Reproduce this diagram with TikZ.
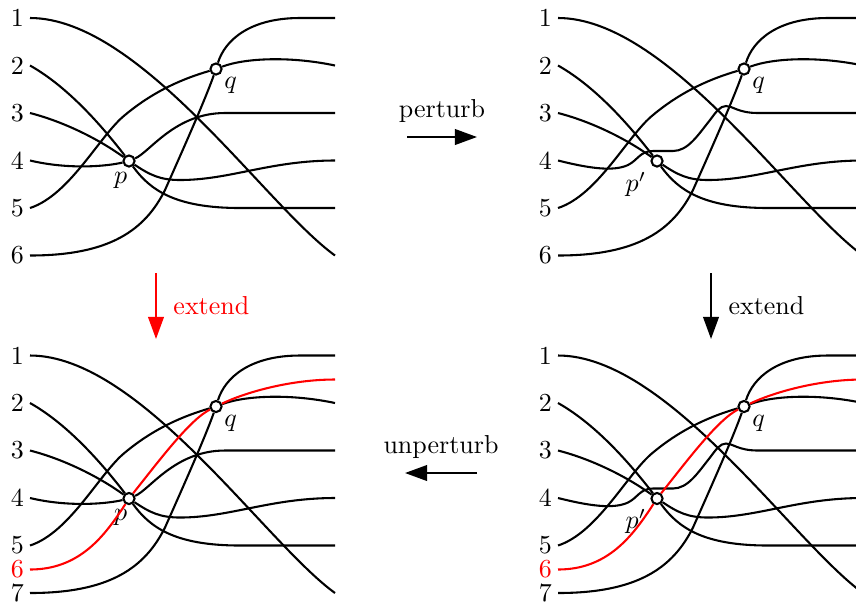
\documentclass[tikz,border=0pt]{standalone}
\usetikzlibrary{arrows.meta, positioning}
\tikzset{
    pseudolines/.style={x=0.385pt, y=0.385pt, thick},
    wire/.style={thick},
    newwire/.style={thick, red},
    crossing/.style={draw, thick, fill=white, circle, minimum size=4.3pt, inner sep=0pt},
    rowlabel/.style={anchor=east, inner sep=2pt},
    ptlabel/.style={inner sep=1pt},
    move/.style={-{Triangle[length=8.5pt, width=6pt]}, thick},
}
% one panel: #1 = label of the lowest black wire, #2 = name of the triple point,
% #3 = sideways nudge of that name
\newcommand{\arrangement}[3]{%
  \foreach \i/\y in {1/18, 2/65.5, 3/113, 4/160.5, 5/208}
    \node[rowlabel] (a\i) at (30,-\y) {\i};
  \node[rowlabel] (a6) at (30,-255.5) {#1};
  \foreach \i/\y in {1/255.5, 2/208, 3/160.5, 4/113, 5/65.5, 6/18}
    \coordinate (b\i) at (335,-\y);
  \node[crossing, label={[ptlabel, xshift=#3, yshift=-1pt]below left:$#2$}] (p) at (129,-161) {};
  \node[crossing, label={[ptlabel]below right:$q$}] (q) at (216,-69) {};
  \draw[wire] (a1.east) .. controls (140,-18) and (265,-205) .. (b1);
  \draw[wire] (a2.east) .. controls (70,-88) and (105,-130) .. (p)
              .. controls (150,-190) and (175,-208) .. (240,-208) -- (b2);
  \draw[wire] (a3.east) .. controls (65,-122) and (100,-140) .. (p)
              .. controls (150,-175) and (160,-180) .. (180,-180)
              .. controls (230,-180) and (270,-160.5) .. (b3);
  \draw[wire] (a5.east) .. controls (70,-195) and (100,-135) .. (125,-115)
              .. controls (155,-90) and (185,-78) .. (q)
              .. controls (245,-58) and (290,-56) .. (b5);
  \draw[wire] (a6.east) .. controls (110,-255.5) and (145,-230) .. (165,-190)
              .. controls (185,-145) and (205,-100) .. (q)
              .. controls (225,-40) and (250,-18) .. (300,-18) -- (b6);
}
% wire 4 through the triple point, and pushed off it
\newcommand{\wirefour}{%
  \draw[wire] (a4.east) .. controls (70,-170) and (108,-166) .. (p)
              .. controls (150,-152) and (175,-113) .. (225,-113) -- (b4);
}
\newcommand{\wirefourmoved}{%
  \draw[wire] (a4.east) .. controls (60,-168) and (85,-172) .. (100,-165)
              .. controls (110,-160) and (112,-151) .. (125,-151) -- (145,-151)
              .. controls (160,-151) and (170,-135) .. (182,-120)
              .. controls (188,-112) and (192,-106) .. (198,-106)
              .. controls (205,-106) and (210,-113) .. (230,-113) -- (b4);
}
% the added wire
\newcommand{\extrawire}{%
  \node[rowlabel, red] (an) at (30,-232) {6};
  \coordinate (bn) at (335,-42);
  \draw[newwire] (an.east) .. controls (80,-232) and (105,-198) .. (p)
                 .. controls (160,-122) and (190,-82) .. (q)
                 .. controls (245,-55) and (290,-42) .. (bn);
}

\begin{document}
\begin{tikzpicture}[pseudolines]
    \useasboundingbox (0,0) rectangle (856,-604);
    \clip (0,0) rectangle (856,-604);

    \begin{scope}[name prefix=tl-]
        \arrangement{6}{p}{2.5pt}
        \wirefour
    \end{scope}
    \begin{scope}[name prefix=tr-, shift={(528,0)}]
        \arrangement{6}{p'}{-1pt}
        \wirefourmoved
    \end{scope}
    \begin{scope}[name prefix=bl-, shift={(0,-337.5)}]
        \arrangement{7}{p}{2.5pt}
        \wirefour
        \extrawire
    \end{scope}
    \begin{scope}[name prefix=br-, shift={(528,-337.5)}]
        \arrangement{7}{p'}{-1pt}
        \wirefourmoved
        \extrawire
    \end{scope}

    % moves between the panels
    \coordinate (perturb-from)   at (407,-137);
    \coordinate (perturb-to)     at (477,-137);
    \coordinate (unperturb-from) at (477,-473);
    \coordinate (unperturb-to)   at (405,-473);
    \coordinate (extendl-from)   at (156,-273);
    \coordinate (extendl-to)     at (156,-339);
    \coordinate (extendr-from)   at (711,-273);
    \coordinate (extendr-to)     at (711,-339);

    \draw[move] (perturb-from) -- node[above=2pt] {perturb} (perturb-to);
    \draw[move, red] (extendl-from) -- node[right=3pt] {extend} (extendl-to);
    \draw[move] (extendr-from) -- node[right=3pt] {extend} (extendr-to);
    \draw[move] (unperturb-from) -- node[above=2pt] {unperturb} (unperturb-to);
\end{tikzpicture}
\end{document}
